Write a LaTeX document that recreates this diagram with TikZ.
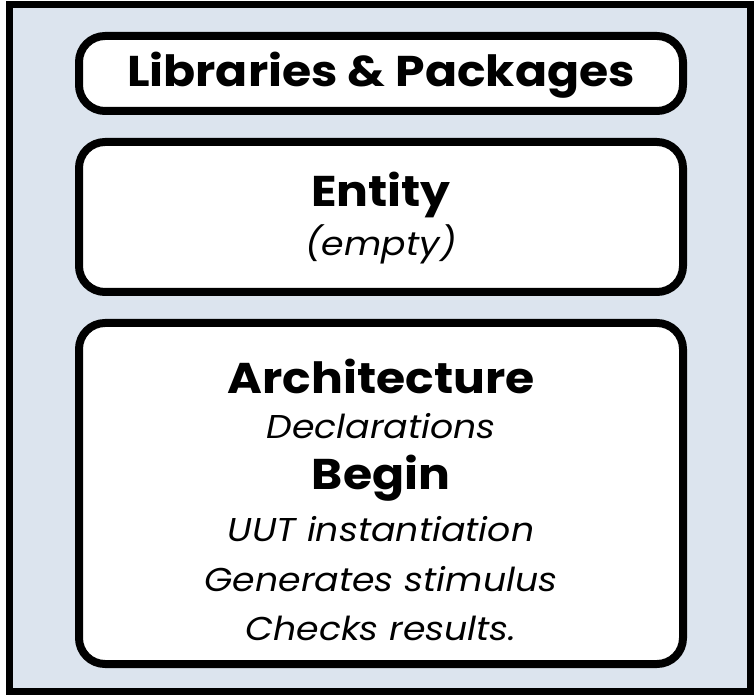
\documentclass[tikz,border=0pt]{standalone}
\usepackage{fontspec}
\setmainfont{Poppins}[FakeStretch=1.1]
\definecolor{panel}{HTML}{DCE4EE}
\tikzset{
  frame/.style={draw=black, line width=7pt, fill=panel},
  block/.style={draw=black, line width=8pt, fill=white, rounded corners=26pt,
                minimum width=604pt, inner sep=0pt},
  headtext/.style={font=\fontsize{43}{50}\selectfont\bfseries, inner sep=0pt},
  subtext/.style={font=\fontsize{33}{40}\selectfont\itshape, inner sep=0pt},
}
\begin{document}
\begin{tikzpicture}[x=1pt,y=-1pt]
\useasboundingbox (0,0) rectangle (756,695);
% outer panel
\draw[frame] (9.5,4.5) rectangle (750,691.5);
% the three sections
\node[block, minimum height=75pt]  (libs) at (381,73.5) {};
\node[block, minimum height=150pt] (ent)  at (381,217) {};
\node[block, minimum height=341pt] (arch) at (381,493.5) {};
% labels
\node[headtext] (libsT) at (381,75) {Libraries \& Packages};
\node[headtext] (entT)  at (381,195) {Entity};
\node[subtext]  (entS)  at (381,244) {(empty)};
\node[headtext] (archT) at (381,376) {Architecture};
\node[subtext]  (decl)  at (381,426) {Declarations};
\node[headtext] (beg)   at (381,478) {Begin};
\node[subtext]  (uut)   at (381,529) {UUT instantiation};
\node[subtext]  (gen)   at (381,579) {Generates stimulus};
\node[subtext]  (chk)   at (381,628) {Checks results.};
\end{tikzpicture}
\end{document}
